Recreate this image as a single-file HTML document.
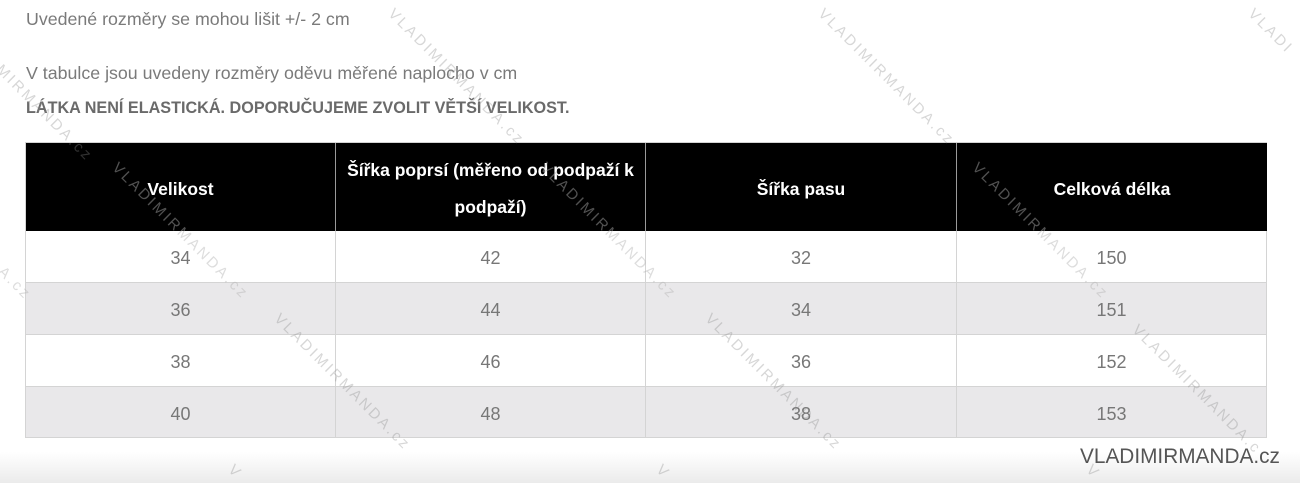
<!DOCTYPE html>
<html>
<head>
<meta charset="utf-8">
<style>
  html,body{margin:0;padding:0;width:1300px;height:483px;overflow:hidden;}
  body{position:relative;background:#fff;font-family:"Liberation Sans",sans-serif;}
  #wrap{position:absolute;left:0;top:0;width:1300px;height:483px;overflow:hidden;}
  .t{position:absolute;left:26px;white-space:nowrap;color:#7a7a7a;}
  .cell{position:absolute;box-sizing:border-box;display:flex;align-items:center;justify-content:center;text-align:center;}
  .h{background:#000;color:#fff;font-weight:bold;font-size:17.5px;line-height:37px;top:143px;height:88px;border-right:1px solid #9a9a9a;padding:4px 6px 0 6px;}
  .d{font-size:18px;color:#777;height:52px;border-right:1px solid #d4d4d4;border-bottom:1px solid #d4d4d4;padding-top:4px;}
  .alt{background:#e9e8ea;}
  .wm{position:absolute;transform-origin:0 0;transform:rotate(45deg);font-size:15px;letter-spacing:2.6px;color:rgba(140,140,140,0.35);white-space:nowrap;line-height:15px;}
  .wmh{color:rgba(180,180,180,0.45);}
</style>
</head>
<body>
<div id="wrap">
<div style="position:absolute;left:0;top:452px;width:1300px;height:31px;background:linear-gradient(#ffffff,#ebebeb);"></div>

<div class="t" style="top:7px;font-size:17.8px;line-height:24px;">Uvedené rozměry se mohou lišit +/- 2 cm</div>
<div class="t" style="top:61px;font-size:17.8px;line-height:24px;">V tabulce jsou uvedeny rozměry oděvu měřené naplocho v cm</div>
<div class="t" style="top:97px;font-size:16.2px;line-height:22px;font-weight:bold;color:#6a6a6a;">LÁTKA NENÍ ELASTICKÁ. DOPORUČUJEME ZVOLIT VĚTŠÍ VELIKOST.</div>

<!-- table outer border -->
<div style="position:absolute;left:25px;top:142px;width:1242px;height:296px;border:1px solid #d4d4d4;box-sizing:border-box;"></div>

<!-- header -->
<div class="cell h" style="left:26px;width:310px;">Velikost</div>
<div class="cell h" style="left:336px;width:310px;">Šířka poprsí (měřeno od podpaží k podpaží)</div>
<div class="cell h" style="left:646px;width:311px;">Šířka pasu</div>
<div class="cell h" style="left:957px;width:310px;border-right:none;">Celková délka</div>

<!-- rows -->
<div class="cell d" style="left:26px;top:231px;width:310px;">34</div>
<div class="cell d" style="left:336px;top:231px;width:310px;">42</div>
<div class="cell d" style="left:646px;top:231px;width:311px;">32</div>
<div class="cell d" style="left:957px;top:231px;width:310px;border-right:1px solid #d4d4d4;">150</div>

<div class="cell d alt" style="left:26px;top:283px;width:310px;">36</div>
<div class="cell d alt" style="left:336px;top:283px;width:310px;">44</div>
<div class="cell d alt" style="left:646px;top:283px;width:311px;">34</div>
<div class="cell d alt" style="left:957px;top:283px;width:310px;">151</div>

<div class="cell d" style="left:26px;top:335px;width:310px;">38</div>
<div class="cell d" style="left:336px;top:335px;width:310px;">46</div>
<div class="cell d" style="left:646px;top:335px;width:311px;">36</div>
<div class="cell d" style="left:957px;top:335px;width:310px;">152</div>

<div class="cell d alt" style="left:26px;top:387px;width:310px;height:51px;">40</div>
<div class="cell d alt" style="left:336px;top:387px;width:310px;height:51px;">48</div>
<div class="cell d alt" style="left:646px;top:387px;width:311px;height:51px;">38</div>
<div class="cell d alt" style="left:957px;top:387px;width:310px;height:51px;">153</div>

<!-- watermarks -->
<div class="wm" style="left:4px;top:62px;">MIRMANDA.cz</div>
<div class="wm" style="left:396px;top:6px;">VLADIMIRMANDA.cz</div>
<div class="wm" style="left:826px;top:6px;">VLADIMIRMANDA.cz</div>
<div class="wm" style="left:1256px;top:6px;">VLADI</div>
<div class="wm wmh" style="left:6px;top:264px;">A.cz</div>
<div class="wm wmh" style="left:120px;top:160px;">VLADIMIRMANDA.cz</div>
<div class="wm wmh" style="left:548px;top:160px;">VLADIMIRMANDA.cz</div>
<div class="wm wmh" style="left:980px;top:160px;">VLADIMIRMANDA.cz</div>
<div class="wm" style="left:282px;top:311px;">VLADIMIRMANDA.cz</div>
<div class="wm" style="left:713px;top:311px;">VLADIMIRMANDA.cz</div>
<div class="wm" style="left:1140px;top:322px;">VLADIMIRMANDA.c</div>
<div class="wm" style="left:236px;top:462px;">V</div>
<div class="wm" style="left:664px;top:462px;">V</div>
<div class="wm" style="left:1094px;top:462px;">V</div>

<div style="position:absolute;left:1080px;top:445px;font-size:20.8px;line-height:24px;color:#555;white-space:nowrap;">VLADIMIRMANDA.cz</div>
</div>
</body>
</html>
